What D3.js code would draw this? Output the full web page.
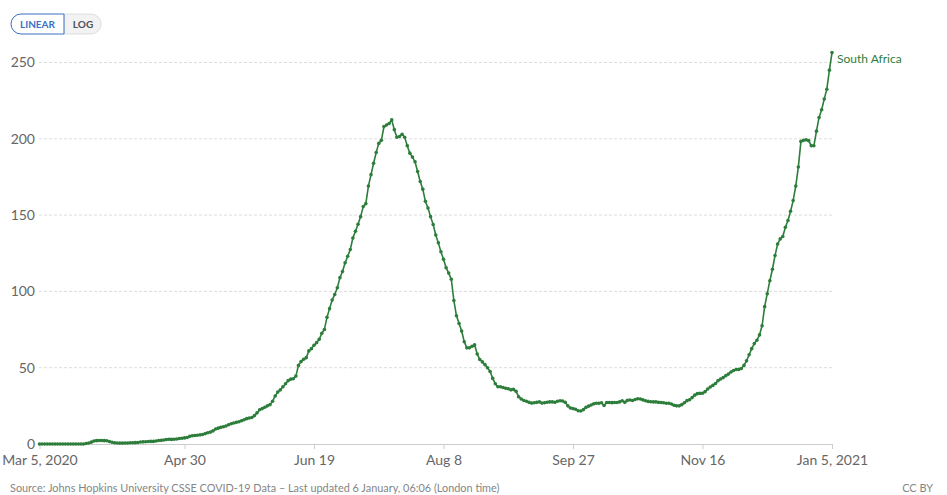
<!DOCTYPE html>
<html>
<head>
<meta charset="utf-8">
<script src="https://cdn.jsdelivr.net/npm/d3@7.9.0/dist/d3.min.js"></script>
<style>
  body { margin: 0; background: #fff; font-family: Lato, "Noto Sans", sans-serif; }
  svg { display: block; }
</style>
</head>
<body>
<svg id="chart" width="947" height="495"></svg>
<script>
// daily values, one per day from Mar 5, 2020 to Jan 5, 2021
const startDate = new Date(2020, 2, 5);
const deaths = [
  0, 0, 0, 0, 0, 0, 0, 0, 0, 0,
  0, 0, 0, 0, 0, 0, 0, 0, 0.3, 0.7,
  1.2, 2, 2.2, 2.3, 2.3, 2.2, 2.1, 1.6, 1.1, 0.8,
  0.7, 0.6, 0.6, 0.7, 0.7, 0.8, 0.8, 0.9, 1.0, 1.3,
  1.4, 1.5, 1.6, 1.7, 1.7, 2.0, 2.3, 2.4, 2.6, 2.9,
  3.1, 3.0, 3.1, 3.3, 3.6, 3.8, 4.0, 4.3, 5.0, 5.4,
  5.6, 5.7, 6.0, 6.2, 6.8, 7.4, 7.8, 8.6, 9.8, 10.4,
  10.9, 11.3, 11.8, 12.6, 13.3, 13.8, 14.2, 14.6, 15.2, 15.9,
  16.6, 17.0, 17.4, 18.6, 20.4, 22.4, 23.2, 24.1, 25.0, 25.8,
  28.0, 31.5, 34.0, 35.5, 37.5, 39.5, 41.5, 42.5, 42.8, 44.5,
  51.5, 54.0, 55.5, 56.6, 61, 62.5, 64.7, 66.4, 68.6, 72.5,
  75, 83, 88.7, 94.3, 98, 102.4, 109, 113, 118.7, 123,
  127.5, 135, 139.4, 144, 149, 155.6, 157.5, 169, 176.5, 184,
  191, 197, 199, 208, 209, 210, 212.4, 206, 201, 201.5,
  203, 201, 195.5, 190.6, 188, 185, 178.6, 172, 167, 159,
  154.7, 149, 143.8, 137, 131.8, 126, 121, 115.5, 112, 108,
  94, 84, 79, 74, 67, 63, 63, 64, 65, 59,
  55.4, 53.8, 52, 50, 47.5, 43, 39.5, 37.5, 37.5, 37,
  36.5, 36.2, 35.5, 35.8, 34.5, 31, 29.5, 28.5, 28, 27.3,
  26.8, 27, 27.3, 27.6, 26.8, 27, 27.4, 27.6, 27.6, 27.3,
  28, 28.3, 28.2, 27.3, 25, 23.6, 23.2, 22.8, 21.8, 21.6,
  22.5, 24, 24.8, 25.6, 26.3, 26.7, 26.7, 27, 25.2, 27.2,
  27.2, 27.1, 27.2, 27.2, 27.6, 28.3, 27.3, 28.6, 28.8, 28.5,
  29.2, 29.7, 29.5, 28.9, 28.3, 27.9, 27.7, 27.6, 27.6, 27.3,
  27.2, 27, 26.7, 26.7, 26.2, 25.4, 25, 25, 25.8, 27,
  28.4, 29, 30.4, 32, 33, 33.2, 33.3, 34.3, 36, 37.4,
  38.4, 39.6, 41.5, 42.6, 43.5, 44.8, 45.8, 47.2, 48.2, 48.8,
  48.9, 49.5, 51.5, 54.5, 58.5, 62.5, 65.8, 68, 71.5, 77.5,
  90, 98.5, 107, 114.5, 123.5, 131, 134.4, 136, 142, 146.5,
  152.5, 159.5, 169, 181.5, 198.3, 199, 199.3, 198.8, 195.5, 195.4,
  205, 214, 219, 226, 232.5, 245, 256.5
];
const yTicks = [0, 50, 100, 150, 200, 250];
const xTickLabels = ["Mar 5, 2020", "Apr 30", "Jun 19", "Aug 8", "Sep 27", "Nov 16", "Jan 5, 2021"];
const xTickDays = [0, 56, 106, 156, 206, 256, 306];
const seriesName = "South Africa";
const sourceText = "Source: Johns Hopkins University CSSE COVID-19 Data \u2013 Last updated 6 January, 06:06 (London time)";

const data = deaths.map((v, i) => ({ date: d3.timeDay.offset(startDate, i), value: v }));
const color = "#2d7d3b";

const svg = d3.select("#chart");
const x = d3.scaleTime()
  .domain([startDate, d3.timeDay.offset(startDate, 306)])
  .range([39.5, 832]);
const y = d3.scaleLinear().domain([0, 250]).range([444, 62.5]);

// gridlines + y labels
svg.append("g").selectAll("line")
  .data(yTicks.filter(t => t > 0))
  .join("line")
  .attr("x1", 39).attr("x2", 832)
  .attr("y1", d => y(d)).attr("y2", d => y(d))
  .attr("stroke", "#ddd").attr("stroke-dasharray", "3,2");

svg.append("g").selectAll("text")
  .data(yTicks)
  .join("text")
  .attr("x", 35).attr("y", d => y(d))
  .attr("dy", "0.35em")
  .attr("text-anchor", "end")
  .attr("font-size", 14).attr("fill", "#666")
  .text(d => d);

// x axis
const xAxis = d3.axisBottom(x)
  .tickValues(xTickDays.map(d => d3.timeDay.offset(startDate, d)))
  .tickFormat((d, i) => xTickLabels[i])
  .tickSize(5).tickSizeOuter(0);
const gx = svg.append("g").attr("transform", "translate(0,444)").call(xAxis);
gx.select(".domain").attr("stroke", "#ccc");
gx.selectAll(".tick line").attr("stroke", "#ccc");
gx.selectAll(".tick text")
  .attr("font-family", "Lato").attr("font-size", 14).attr("fill", "#666").attr("dy", "0.95em");

// line + points
const line = d3.line().x(d => x(d.date)).y(d => y(d.value));
svg.append("path").datum(data)
  .attr("d", line).attr("fill", "none")
  .attr("stroke", color).attr("stroke-width", 1.6);
svg.append("g").selectAll("circle")
  .data(data).join("circle")
  .attr("cx", d => x(d.date)).attr("cy", d => y(d.value))
  .attr("r", 1.8).attr("fill", color);

const last = data[data.length - 1];
svg.append("text")
  .attr("x", x(last.date) + 5).attr("y", y(last.value) + 6)
  .attr("dy", "0.35em")
  .attr("font-size", 12).attr("fill", color)
  .text(seriesName);

// scale toggle
const btn = svg.append("g");
btn.append("path")
  .attr("d", "M64,14 H91 A10,10 0 0 1 91,34 H64 Z")
  .attr("fill", "#f2f2f2").attr("stroke", "#ddd");
btn.append("path")
  .attr("d", "M64,14 H21 A10,10 0 0 0 21,34 H64 Z")
  .attr("fill", "#fff").attr("stroke", "#3a6fc4");
btn.append("text").attr("x", 37.5).attr("y", 24).attr("dy", "0.35em")
  .attr("text-anchor", "middle").attr("font-size", 10).attr("font-weight", 700)
  .attr("fill", "#3a6fc4").text("LINEAR");
btn.append("text").attr("x", 83).attr("y", 24).attr("dy", "0.35em")
  .attr("text-anchor", "middle").attr("font-size", 10).attr("font-weight", 700)
  .attr("fill", "#4a4f5c").text("LOG");

// footer
svg.append("text").attr("x", 10).attr("y", 492)
  .attr("font-size", 10.9).attr("fill", "#858585").text(sourceText);
svg.append("text").attr("x", 933).attr("y", 492).attr("text-anchor", "end")
  .attr("font-size", 10.9).attr("fill", "#858585").text("CC BY");
</script>
</body>
</html>
